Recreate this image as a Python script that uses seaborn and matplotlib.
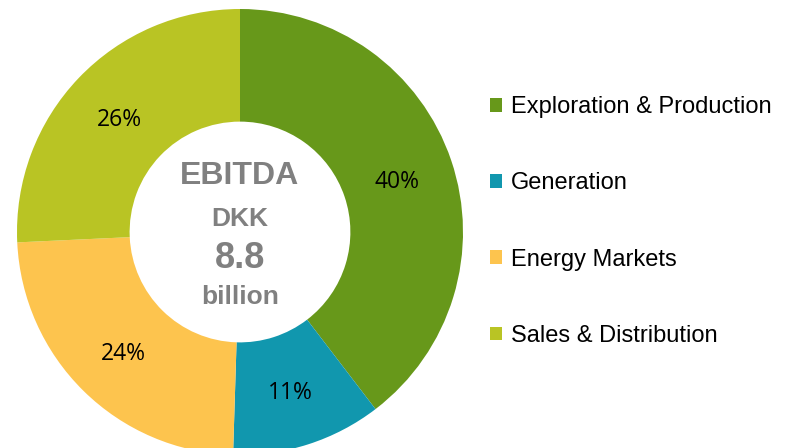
import matplotlib
matplotlib.use("Agg")
import matplotlib.pyplot as plt
import seaborn as sns

sns.set_style("white")

segments = ["Exploration & Production", "Generation", "Energy Markets", "Sales & Distribution"]
shares = [40, 11, 24, 26]
colors = ["#67981A", "#1197AE", "#FDC44E", "#B9C424"]
center_lines = ["EBITDA", "DKK", "8.8", "billion"]
center_sizes = [23, 19, 26, 19]
center_y = [0.25, 0.06, -0.12, -0.29]

palette = sns.color_palette(colors)

fig = plt.figure(figsize=(8, 4.48), dpi=100)
ax = fig.add_axes([17 / 800, -7 / 448, 446 / 800, 446 / 448])

wedges, _, autotexts = ax.pie(
    shares,
    colors=palette,
    startangle=90,
    counterclock=False,
    radius=1.0,
    autopct=lambda p: f"{round(p * sum(shares) / 100):.0f}%",
    pctdistance=0.745,
    wedgeprops=dict(width=0.505, edgecolor="none"),
    textprops=dict(fontsize=16.5, family="Open Sans", color="black"),
)
for t in autotexts:
    x, y = t.get_position()
    t.set_position((x, y - 0.014))

ax.set_xlim(-1, 1)
ax.set_ylim(-1, 1)
ax.set_aspect("equal")
ax.axis("off")

for line, size, y in zip(center_lines, center_sizes, center_y):
    ax.text(0, y, line, ha="center", va="center", fontsize=size,
            fontweight="bold", family="Liberation Sans", color="#808080")

leg = fig.legend(
    wedges, segments,
    loc="upper left",
    bbox_to_anchor=(490 / 800, 1 - 96 / 448),
    frameon=False,
    prop=dict(family="Liberation Sans", size=17),
    handlelength=0.52, handleheight=0.52,
    handletextpad=0.35,
    labelspacing=2.3,
    borderaxespad=0, borderpad=0,
)
for t in leg.get_texts():
    t.set_color("black")

fig.savefig("out.png", dpi=100)
